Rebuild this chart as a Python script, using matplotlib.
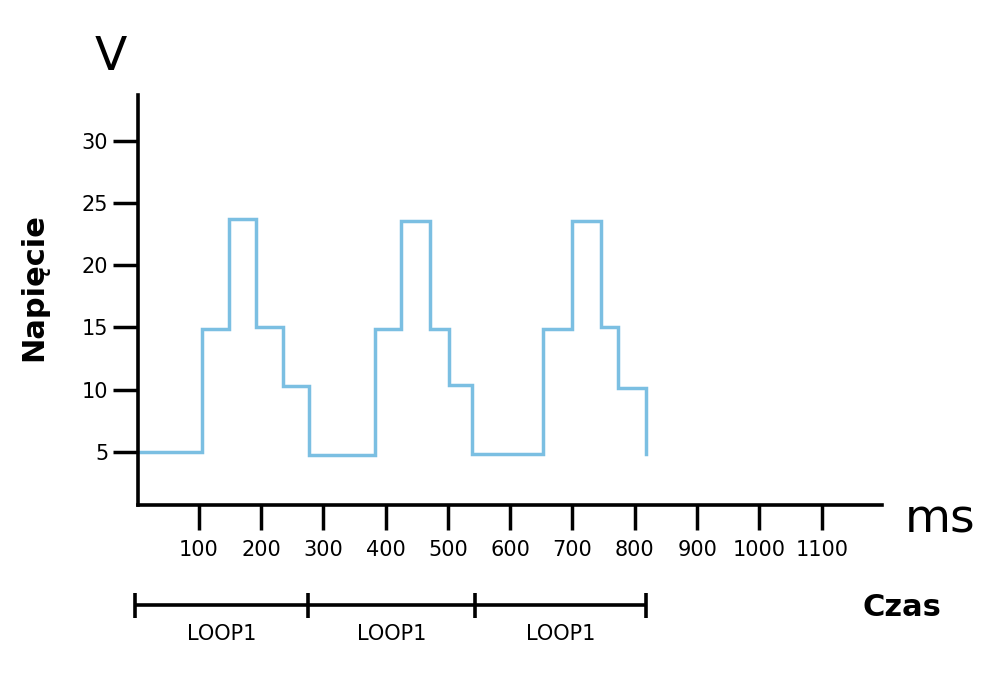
import matplotlib
matplotlib.use("Agg")
import matplotlib.pyplot as plt

# Data
time_ms = [0, 106, 149, 192, 235, 277, 383, 425, 471, 501, 538, 652, 700, 746, 773, 818]
voltage = [5.0, 14.9, 23.7, 15.0, 10.3, 4.7, 14.9, 23.6, 14.9, 10.4, 4.8, 14.9, 23.6, 15.0, 10.1, 4.85]
x_ticks = [100, 200, 300, 400, 500, 600, 700, 800, 900, 1000, 1100]
y_ticks = [5, 10, 15, 20, 25, 30]
loop_bounds = [-2, 275, 543, 818]
loop_labels = ["LOOP1", "LOOP1", "LOOP1"]

W, H = 1003, 681
fig = plt.figure(figsize=(W / 100, H / 100), dpi=100)
ax = fig.add_axes([137.5 / W, 176 / H, (882 - 137.5) / W, (505 - 95) / H])

ax.step(time_ms, voltage, where="post", color="#7bbfe2", lw=2.5, solid_joinstyle="miter")

ax.set_xlim(1.8, 1196.8)
ax.set_ylim(0.71, 33.7)
ax.set_xticks(x_ticks)
ax.set_yticks(y_ticks)
ax.tick_params(axis="both", direction="out", length=18, width=2.5, labelsize=15, pad=3, color="black")
ax.tick_params(axis="x", pad=7)
for s in ["top", "right"]:
    ax.spines[s].set_visible(False)
for s in ["left", "bottom"]:
    ax.spines[s].set_linewidth(2.6)
    ax.spines[s].set_capstyle("projecting")

# axis labels
fig.text(110.8 / W, 1 - 57 / H, "V", fontsize=34, ha="center", va="center")
fig.text(940 / W, 1 - 520 / H, "ms", fontsize=34, ha="center", va="center")
fig.text(902 / W, 1 - 608 / H, "Czas", fontsize=22, fontweight="bold", ha="center", va="center")
fig.text(34 / W, 1 - 287 / H, "Napięcie", fontsize=22, fontweight="bold", rotation=90, ha="center", va="center")

# loop brackets (below the axis)
yb = -7.3
ax.plot([loop_bounds[0], loop_bounds[-1]], [yb, yb], color="black", lw=2.6, clip_on=False, solid_capstyle="butt")
for b in loop_bounds:
    ax.plot([b, b], [yb + 0.95, yb - 1.1], color="black", lw=2.6, clip_on=False, solid_capstyle="butt")
for i, lab in enumerate(loop_labels):
    ax.text((loop_bounds[i] + loop_bounds[i + 1]) / 2, -9.7, lab, fontsize=15,
            ha="center", va="center", clip_on=False)

fig.savefig("out.png", dpi=100)
